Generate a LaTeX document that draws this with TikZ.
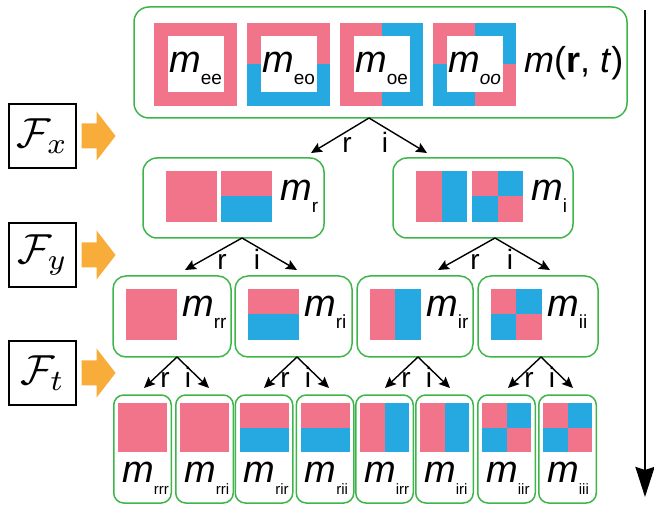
\documentclass[tikz,border=0pt]{standalone}
\usepackage{graphicx}
\usepackage{fontspec}
\setmainfont{Liberation Sans}
\usetikzlibrary{arrows.meta}

\definecolor{pk}{RGB}{241,116,138}
\definecolor{bl}{RGB}{38,169,224}
\definecolor{grn}{RGB}{62,181,74}
\definecolor{orng}{RGB}{248,173,58}

% m with a lowered subscript
\newcommand{\msub}[2][19pt]{{\fontsize{38pt}{40pt}\selectfont\itshape m}\raisebox{-12pt}{\fontsize{#1}{#1}\selectfont #2}}

% coloured squares: left, top, size
\newcommand{\sqP}[3]{\fill[pk] (#1,#2) rectangle ++(#3,#3);}
\newcommand{\sqH}[3]{\fill[pk] (#1,#2) rectangle ++(#3,#3/2); \fill[bl] (#1,#2+#3/2) rectangle ++(#3,#3/2);}
\newcommand{\sqV}[3]{\fill[pk] (#1,#2) rectangle ++(#3/2,#3); \fill[bl] (#1+#3/2,#2) rectangle ++(#3/2,#3);}
\newcommand{\sqC}[3]{\fill[pk] (#1,#2) rectangle ++(#3,#3); \fill[bl] (#1+#3/2,#2) rectangle ++(#3/2,#3/2); \fill[bl] (#1,#2+#3/2) rectangle ++(#3/2,#3/2);}

% operator symbol
\newcommand{\op}[1]{\scalebox{4.2}{$\mathcal{F}_#1$}}

\tikzset{
  gbox/.style={draw=grn, line width=1.5pt, rounded corners=14pt, inner sep=0pt},
  fbox/.style={draw, line width=1.2pt, minimum width=67pt, minimum height=64pt, inner sep=0pt},
  mlbl/.style={anchor=base west, inner sep=0pt},
  elbl/.style={anchor=base, inner sep=0pt, font=\fontsize{28pt}{30pt}\selectfont},
  tarr/.style={line width=1.4pt, -{Stealth[length=11pt,width=10pt,inset=2pt]}}
}

\begin{document}
\begin{tikzpicture}[x=1pt, y=-1pt]
	\useasboundingbox (0,0) rectangle (654,505);

	% operators on the left
	\node[fbox] (fx) at (42.5,136) {\op{x}};
	\node[fbox] (fy) at (42.5,255) {\op{y}};
	\node[fbox] (ft) at (42.5,373) {\op{t}};
	\foreach \f in {fx,fy,ft}
		\fill[orng] ([xshift=5pt]\f.east) ++(0,-12.5) -- ++(15,0) -- ++(0,-12) -- ++(19,24.5) -- ++(-19,24.5) -- ++(0,-12) -- ++(-15,0) -- cycle;

	% full field
	\node[gbox, rounded corners=15pt, minimum width=493pt, minimum height=111pt] (top) at (380.5,62.5) {};
	\foreach \x/\pat/\sub in {154/P/ee, 247/H/eo, 340/V/oe, 433/C/\itshape oo}
	{
		\csname sq\pat\endcsname{\x}{23}{83}
		\fill[white] (\x+13.5,36.5) rectangle ++(56,56);
		\node[mlbl] (t\pat) at (\x+15,73) {\msub{\sub}};
	}
	\node[mlbl] (mrt) at (524,73) {\fontsize{36pt}{38pt}\selectfont\itshape m\upshape(\textbf{r}, \textit{t})};

	% after F_x
	\node[gbox, minimum width=181pt, minimum height=80pt] (ra) at (233.5,198) {};
	\node[gbox, minimum width=180pt, minimum height=80pt] (ia) at (483,198) {};
	\sqP{166}{171}{51} \sqH{221}{171}{51}
	\sqV{416}{171}{51} \sqC{472}{171}{51}
	\node[mlbl] (mr) at (280,201) {\msub{r}};
	\node[mlbl] (mi) at (531,201) {\msub{i}};

	% after F_y
	\foreach \l/\r/\pat/\sub [count=\k] in {113/231/P/rr, 235/352/H/ri, 357/473/V/ir, 478/598/C/ii}
	{
		\node[gbox, rounded corners=13pt, minimum width=\r-\l, minimum height=81pt] (c\k) at ({(\l+\r)/2},316.5) {};
		\csname sq\pat\endcsname{\l+12.5}{289}{51}
		\node[mlbl] (mc\k) at (\l+69,317) {\msub{\sub}};
	}

	% after F_t
	\foreach \cx/\pat/\sub [count=\k] in {142.5/P/rrr, 204.5/P/rri, 264/H/rir, 325/H/rii, 384.5/V/irr, 444.5/V/iri, 506.5/C/iir, 567.5/C/iii}
	{
		\node[gbox, rounded corners=10pt, minimum width=57.5pt, minimum height=108pt] (d\k) at (\cx,449) {};
		\csname sq\pat\endcsname{\cx-24.5}{403}{49}
		\node[mlbl] (md\k) at (\cx-20.5,482) {\msub[15pt]{\sub}};
	}

	% branches
	\foreach \ax/\ay/\dl/\dr/\dy/\lr/\li [count=\k] in {369/118/58/58/35/22/16, 242/238/57/55/32/20/15, 495/238/57/55/32/20/15, 177/357/33/32/31/12/11, 297/357/33/32/31/12/11, 418/357/33/32/31/12/11, 541/357/33/32/31/12/11}
	{
		\coordinate (ap\k) at (\ax,\ay);
		\coordinate (tl\k) at (\ax-\dl,\ay+\dy);
		\coordinate (tr\k) at (\ax+\dr,\ay+\dy);
		\draw[tarr] (ap\k) -- (tl\k);
		\draw[tarr] (ap\k) -- (tr\k);
		\node[elbl] (lr\k) at (\ax-\lr,\ay+\dy) {r};
		\node[elbl] (li\k) at (\ax+\li,\ay+\dy) {i};
	}

	% time axis
	\coordinate (tb) at (645,10);
	\coordinate (te) at (645,497);
	\draw[line width=2.6pt, -{Stealth[length=30pt,width=19pt,inset=3pt]}] (tb) -- (te);

\end{tikzpicture}
\end{document}
